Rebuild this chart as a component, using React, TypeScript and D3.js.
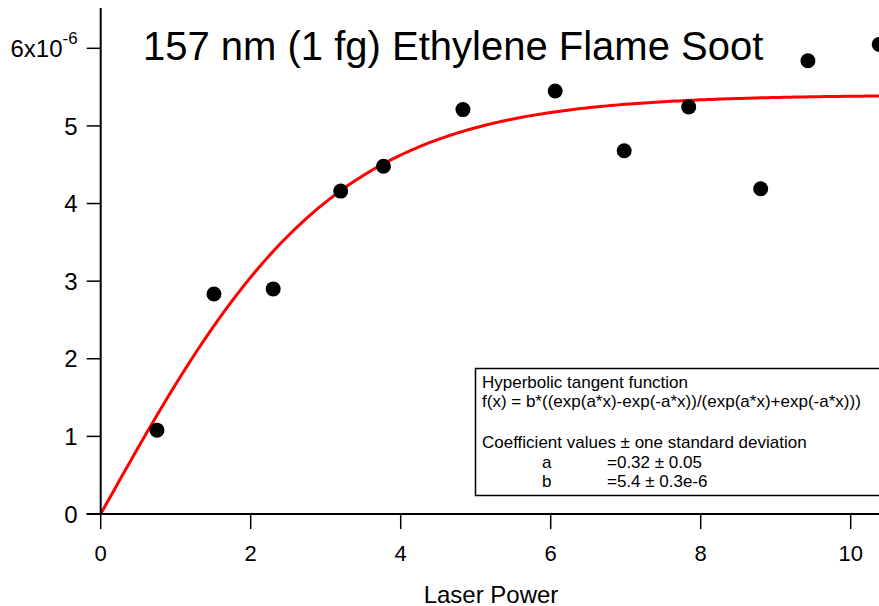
import React from "react";
import * as d3 from "d3";

// Data (laser power vs signal, in units of 1e-6)
const laserPower = [0.75, 1.51, 2.30, 3.20, 3.77, 4.83, 6.06, 6.98, 7.84, 8.80, 9.43, 10.38];
const signal = [1.08, 2.835, 2.90, 4.16, 4.48, 5.21, 5.45, 4.68, 5.245, 4.19, 5.84, 6.05];

// Fit coefficients (hyperbolic tangent fit)
const fitA = 0.32;
const fitB = 5.4;

const xTicks = [0, 2, 4, 6, 8, 10];
const yTicks = [0, 1, 2, 3, 4, 5, 6];

const title = "157 nm (1 fg) Ethylene Flame Soot";
const xLabel = "Laser Power";
const legendLines = [
  "Hyperbolic tangent function",
  "f(x) = b*((exp(a*x)-exp(-a*x))/(exp(a*x)+exp(-a*x)))",
  "Coefficient values ± one standard deviation",
];
const coefNames = ["a", "b"];
const coefValues = ["=0.32 ± 0.05", "=5.4 ± 0.3e-6"];

const W = 879;
const H = 606;
const FONT = "'Liberation Sans', Arial, Helvetica, sans-serif";
const legendBaselines = [387.5, 406.5, 448];
const coefBaselines = [467.5, 486.5];

export default function App() {
  const x = d3.scaleLinear().domain([0, 10]).range([100.7, 850.7]);
  const y = d3.scaleLinear().domain([0, 6]).range([514, 48.3]);
  const xMax = x.invert(W + 5);

  const fitData = d3.range(0, xMax, 0.05).map((v) => [v, fitB * Math.tanh(fitA * v)] as [number, number]);
  const line = d3
    .line<[number, number]>()
    .x((d) => x(d[0]))
    .y((d) => y(d[1]));

  const x0 = x(0);
  const y0 = y(0);

  return (
    <div style={{ position: "fixed", left: 0, top: 0, width: W, height: H, background: "#fff" }}>
      <svg width={W} height={H} style={{ display: "block", fontFamily: FONT }}>
        <rect x={0} y={0} width={W} height={H} fill="#fff" />
        <defs>
          <clipPath id="plot">
            <rect x={x0} y={0} width={W - x0} height={y0} />
          </clipPath>
        </defs>

        {/* fit curve */}
        <path d={line(fitData) || ""} fill="none" stroke="#ff0000" strokeWidth={3} clipPath="url(#plot)" />

        {/* data points */}
        {laserPower.map((p, i) => (
          <circle key={i} cx={x(p)} cy={y(signal[i])} r={7.5} fill="#000" />
        ))}

        {/* y axis */}
        <line x1={x0} x2={x0} y1={8} y2={y0} stroke="#000" strokeWidth={2} />
        {yTicks.map((t) => (
          <g key={t}>
            <line x1={x0 - 14} x2={x0} y1={y(t)} y2={y(t)} stroke="#000" strokeWidth={1.5} />
            {t === 6 ? (
              <text x={x0 - 23} y={y(t)} dy="0.36em" textAnchor="end" fontSize={24}>
                6x10
                <tspan fontSize={17} dy="-0.75em">-6</tspan>
              </text>
            ) : (
              <text x={x0 - 23} y={y(t)} dy="0.36em" textAnchor="end" fontSize={24}>
                {t}
              </text>
            )}
          </g>
        ))}

        {/* x axis */}
        <line x1={x0 - 14} x2={W} y1={y0} y2={y0} stroke="#000" strokeWidth={2} />
        {xTicks.map((t) => (
          <g key={t}>
            <line x1={x(t)} x2={x(t)} y1={y0} y2={y0 + 15} stroke="#000" strokeWidth={1.5} />
            <text x={x(t)} y={560.5} textAnchor="middle" fontSize={22}>
              {t}
            </text>
          </g>
        ))}
        <text x={491} y={602.5} textAnchor="middle" fontSize={24}>
          {xLabel}
        </text>

        {/* title */}
        <text x={143} y={60} fontSize={40}>
          {title}
        </text>

        {/* legend box */}
        <rect x={475.5} y={368.5} width={430} height={127} fill="#fff" stroke="#000" strokeWidth={1.5} />
        {legendLines.map((l, i) => (
          <text key={i} x={482} y={legendBaselines[i]} fontSize={17}>
            {l}
          </text>
        ))}
        {coefNames.map((c, i) => (
          <g key={c}>
            <text x={542} y={coefBaselines[i]} fontSize={17}>
              {c}
            </text>
            <text x={607} y={coefBaselines[i]} fontSize={17}>
              {coefValues[i]}
            </text>
          </g>
        ))}
      </svg>
    </div>
  );
}
